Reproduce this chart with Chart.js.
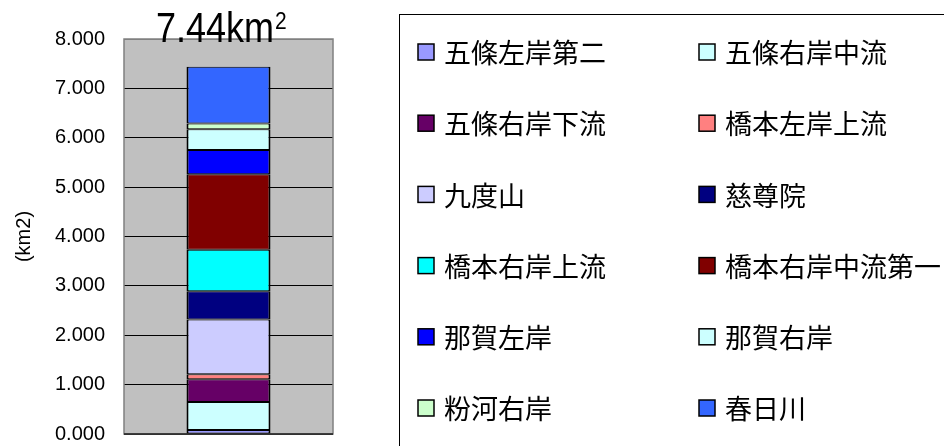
<!DOCTYPE html>
<html>
<head>
<meta charset="utf-8">
<script src="https://cdn.jsdelivr.net/npm/chart.js@4.4.1/dist/chart.umd.min.js"></script>
<style>
  html, body { margin: 0; padding: 0; background: #fff; }
  #c { display: block; }
</style>
</head>
<body>
<canvas id="c" width="944" height="446"></canvas>
<script>
// Stacked area chart (km2) — one column, twelve districts, bottom to top.
const categories = [''];
const seriesNames = [
  '五條左岸第二', '五條右岸中流', '五條右岸下流', '橋本左岸上流',
  '九度山', '慈尊院', '橋本右岸上流', '橋本右岸中流第一',
  '那賀左岸', '那賀右岸', '粉河右岸', '春日川',
];
const seriesValues = [0.08, 0.57, 0.46, 0.10, 1.11, 0.57, 0.84, 1.53, 0.49, 0.42, 0.12, 1.15];
const seriesColors = [
  '#9999FF', '#CCFFFF', '#660066', '#FF8080',
  '#CCCCFF', '#000080', '#00FFFF', '#800000',
  '#0000FF', '#CCFFFF', '#CCFFCC', '#3366FF',
];
const yTicks = [0, 1, 2, 3, 4, 5, 6, 7, 8];
const totalLabel = '7.44km';

const plotBg = {
  id: 'plotBg',
  beforeDraw(chart) {
    const { ctx, chartArea: a } = chart;
    ctx.save();
    ctx.fillStyle = '#C0C0C0';
    ctx.fillRect(a.left, a.top, a.right - a.left, a.bottom - a.top);
    ctx.restore();
  },
  beforeDatasetsDraw(chart) {
    const { ctx, chartArea: a } = chart;
    ctx.save();
    ctx.strokeStyle = '#808080';
    ctx.lineWidth = 1.5;
    ctx.strokeRect(a.left, a.top, a.right - a.left, a.bottom - a.top);
    ctx.strokeStyle = '#222';
    ctx.beginPath();
    ctx.moveTo(a.left, a.bottom);
    ctx.lineTo(a.right, a.bottom);
    ctx.stroke();
    ctx.restore();
  },
};

// Total label above the column, with superscript 2.
const totalTitle = {
  id: 'totalTitle',
  afterDraw(chart) {
    const { ctx } = chart;
    ctx.save();
    ctx.fillStyle = '#000';
    ctx.textBaseline = 'alphabetic';
    ctx.textAlign = 'left';
    ctx.translate(156, 41.5);
    ctx.scale(1, 1.16);
    ctx.font = '36px "Liberation Sans", Arial, sans-serif';
    ctx.fillText(totalLabel, 0, 0);
    const w = ctx.measureText(totalLabel).width;
    ctx.font = '21px "Liberation Sans", Arial, sans-serif';
    ctx.fillText('2', w + 1, -11);
    ctx.restore();
  },
};

// Two-column boxed legend to the right of the plot.
const sideLegend = {
  id: 'sideLegend',
  afterDraw(chart) {
    const { ctx } = chart;
    const sets = chart.data.datasets;
    ctx.save();
    ctx.strokeStyle = '#000';
    ctx.lineWidth = 1;
    ctx.strokeRect(399.5, 14.5, 700, 500);
    ctx.font = '27px "Noto Sans CJK JP", sans-serif';
    ctx.textBaseline = 'middle';
    ctx.textAlign = 'left';
    const cols = [418, 699];
    sets.forEach((ds, i) => {
      const x = cols[i % 2];
      const y = 52 + Math.floor(i / 2) * 71.2;
      ctx.fillStyle = ds.backgroundColor;
      ctx.fillRect(x, y - 8, 16, 16);
      ctx.strokeStyle = '#000';
      ctx.lineWidth = 1.5;
      ctx.strokeRect(x, y - 8, 16, 16);
      ctx.fillStyle = '#000';
      ctx.fillText(ds.label, x + 26, y + 1);
    });
    ctx.restore();
  },
};

new Chart(document.getElementById('c'), {
  type: 'bar',
  data: {
    labels: categories,
    datasets: seriesNames.map((name, i) => ({
      label: name,
      data: [seriesValues[i]],
      backgroundColor: seriesColors[i],
      borderColor: '#000',
      borderWidth: { top: 1, bottom: 1, left: 2, right: 2 },
      borderSkipped: false,
      categoryPercentage: 1,
      barPercentage: 0.402,
    })),
  },
  options: {
    responsive: false,
    animation: false,
    devicePixelRatio: 1,
    layout: { padding: { left: 0, top: 39, right: 611, bottom: 12 } },
    plugins: { legend: { display: false }, tooltip: { enabled: false }, title: { display: false } },
    scales: {
      x: { stacked: true, display: false },
      y: {
        stacked: true,
        min: 0, max: 8,
        afterFit: (s) => { s.width = 124; },
        afterBuildTicks: (s) => { s.ticks = yTicks.map((v) => ({ value: v })); },
        ticks: {
          color: '#000',
          padding: 0,
          font: { family: '"Liberation Sans", Arial, sans-serif', size: 20 },
          callback: (v) => Number(v).toFixed(3),
        },
        grid: {
          drawTicks: true,
          tickLength: 19,
          tickColor: 'rgba(0,0,0,0)',
          color: (c) => (c.tick && c.tick.value === 8 ? '#808080' : '#000'),
          lineWidth: 1,
        },
        border: { display: false },
        title: {
          display: true,
          text: '(km2)',
          color: '#000',
          font: { family: '"Liberation Sans", Arial, sans-serif', size: 20 },
          padding: { top: 12, bottom: 0 },
        },
      },
    },
  },
  plugins: [plotBg, totalTitle, sideLegend],
});
</script>
</body>
</html>
